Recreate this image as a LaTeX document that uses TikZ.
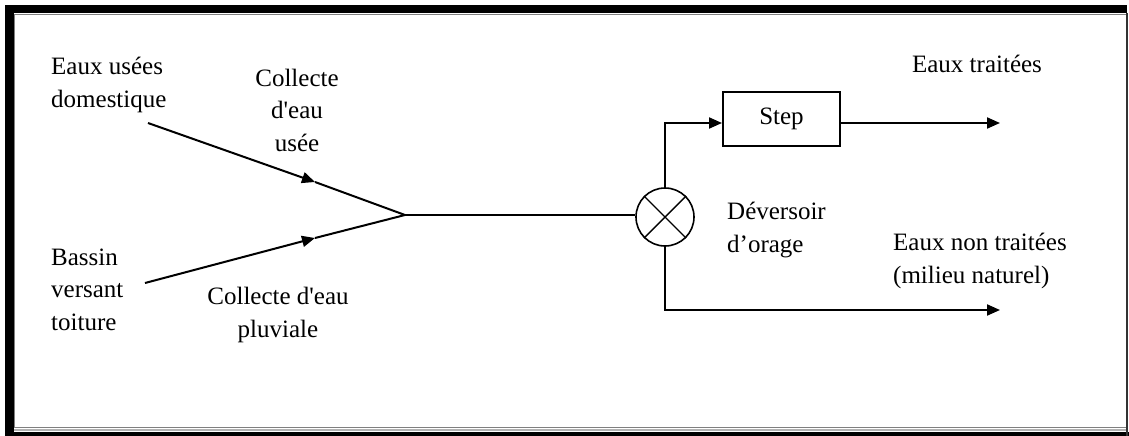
\documentclass[tikz,border=0pt]{standalone}
\usepackage{fontspec}
\setmainfont{Liberation Serif}
\usetikzlibrary{arrows.meta,positioning}

\begin{document}
\begin{tikzpicture}[x=1pt,y=-1pt,>={Triangle[length=13pt,width=11pt]},
  flow/.style={line width=2pt},
  lab/.style={font=\fontsize{25}{32.5}\selectfont,inner sep=0pt},
  stepbox/.style={draw,line width=2pt,minimum width=117pt,minimum height=54pt,inner sep=0pt,font=\fontsize{25}{30}\selectfont},
  weir/.style={draw,circle,line width=1.6pt,minimum size=58pt,inner sep=0pt}]
\useasboundingbox (0,0) rectangle (1129,436);
% cadre
\fill (5,5) rectangle (1127,13.5);
\fill (5,5) rectangle (13.5,436);
\fill (5,432) rectangle (1129,436);
\draw[line width=2pt,black!80] (1127,13) -- (1127,436);
\draw[gray,line width=1pt] (14,14.5) -- (1126,14.5) (14.5,14) -- (14.5,428) (14,427.5) -- (1126,427.5);
\draw[gray!60,line width=1.5pt] (14,430) -- (1126,430);

% noeuds
\coordinate (dom) at (148,123);
\coordinate (toit) at (145,283);
\coordinate (m1) at (315,182);
\coordinate (m2) at (315,238);
\coordinate (jn) at (405,215);
\node[weir] (dev) at (665,217) {};
\draw[line width=1.4pt] (dev.45) -- (dev.225) (dev.135) -- (dev.-45);
\node[stepbox] (step) at (781.5,119) {Step};
\coordinate (up) at (665,123);
\coordinate (down) at (665,310);
\coordinate (outT) at (1000,123);
\coordinate (outN) at (1000,310);

% liaisons
\draw[flow,->] (dom) -- (m1);
\draw[flow] (m1) -- (jn);
\draw[flow,->] (toit) -- (m2);
\draw[flow] (m2) -- (jn);
\draw[flow] (jn) -- (dev.west |- jn);
\draw[flow,->] (dev.north) -- (up) -- (up -| step.west);
\draw[flow,->] (up -| step.east) -- (outT);
\draw[flow,->] (dev.south) -- (down) -- (outN);

% textes (base = ligne du bas)
\node[lab,align=left,anchor=base west] at (51,107) {Eaux usées\\domestique};
\node[lab,align=center,anchor=base] at (297,151) {Collecte\\d\textquotesingle eau\\usée};
\node[lab,align=left,anchor=base west] at (51,330) {Bassin\\versant\\toiture};
\node[lab,align=center,anchor=base] at (278,337) {Collecte d\textquotesingle eau\\pluviale};
\node[lab,anchor=base] at (977,73) {Eaux traitées};
\node[lab,align=left,anchor=base west] at (727,252) {Déversoir\\d’orage};
\node[lab,align=left,anchor=base west] at (893,283) {Eaux non traitées\\(milieu naturel)};
\end{tikzpicture}
\end{document}
